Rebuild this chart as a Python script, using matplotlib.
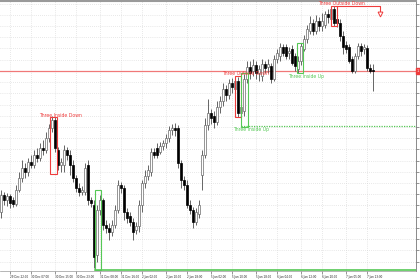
import numpy as np
import matplotlib
matplotlib.use('Agg')
import matplotlib.pyplot as plt
from matplotlib.patches import Rectangle

# hourly candles, price (arbitrary units, higher = up)
opens = [68, 85, 80, 84, 80, 76, 90, 102, 112, 108,
         118, 115, 125, 122, 132, 130, 142, 152, 160, 130,
         115, 115, 130, 125, 115, 102, 92, 88, 88, 115,
         80, 75, 25, 70, 80, 55, 52, 48, 55, 70,
         95, 92, 68, 64, 58, 50, 54, 75, 97, 104,
         108, 128, 132, 128, 134, 137, 142, 150, 152, 152,
         117, 100, 95, 75, 70, 58, 66, 105, 125, 155,
         168, 165, 158, 174, 180, 192, 186, 198, 192, 200,
         168, 170, 202, 214, 210, 216, 208, 205, 217, 214,
         215, 202, 222, 225, 234, 234, 228, 232, 225, 212,
         220, 232, 242, 250, 258, 250, 260, 255, 256, 267,
         262, 272, 262, 258, 245, 236, 234, 222, 210, 225,
         235, 232, 233, 213, 211]
closes = [85, 80, 84, 77, 76, 90, 102, 112, 108, 118,
          115, 125, 122, 132, 130, 142, 152, 160, 132, 115,
          118, 130, 125, 115, 102, 92, 88, 90, 112, 80,
          77, 23, 70, 80, 55, 52, 48, 55, 70, 95,
          92, 68, 62, 58, 48, 54, 75, 97, 104, 110,
          128, 125, 125, 134, 137, 142, 150, 152, 150, 117,
          100, 95, 75, 70, 58, 68, 75, 125, 155, 168,
          162, 158, 174, 180, 192, 186, 198, 194, 200, 168,
          174, 202, 214, 208, 216, 208, 212, 217, 213, 217,
          202, 222, 228, 234, 228, 225, 230, 218, 215, 220,
          235, 242, 252, 258, 250, 260, 255, 260, 267, 264,
          272, 258, 258, 245, 234, 232, 220, 210, 225, 235,
          230, 234, 213, 210, 210]
highs = [90, 88, 87, 86, 83, 95, 108, 120, 117, 122,
         125, 130, 132, 137, 140, 148, 156, 164, 163, 133,
         122, 135, 133, 130, 120, 105, 97, 94, 117, 120,
         83, 80, 75, 85, 82, 60, 57, 60, 75, 100,
         98, 95, 72, 68, 62, 58, 80, 100, 110, 115,
         132, 132, 137, 138, 140, 146, 154, 156, 157, 155,
         120, 104, 100, 80, 73, 72, 80, 130, 162, 182,
         172, 170, 180, 185, 198, 196, 202, 203, 204, 204,
         180, 207, 220, 220, 222, 220, 216, 222, 220, 222,
         218, 226, 232, 238, 237, 237, 234, 236, 228, 225,
         238, 246, 256, 265, 262, 266, 264, 268, 270, 272,
         275, 275, 266, 262, 250, 240, 237, 225, 228, 238,
         238, 237, 236, 217, 217]
lows = [62, 75, 74, 72, 73, 74, 88, 98, 102, 104,
        112, 112, 118, 119, 125, 127, 138, 148, 128, 110,
        108, 108, 120, 105, 98, 88, 84, 85, 85, 75,
        73, 12, 18, 65, 50, 47, 40, 44, 52, 67,
        87, 60, 57, 54, 40, 46, 48, 68, 92, 100,
        104, 122, 122, 126, 130, 132, 138, 145, 144, 112,
        92, 90, 72, 66, 52, 55, 62, 90, 122, 150,
        156, 152, 155, 168, 175, 180, 182, 188, 185, 163,
        154, 165, 198, 202, 205, 202, 200, 200, 208, 208,
        198, 200, 218, 220, 225, 222, 222, 216, 210, 208,
        216, 230, 238, 247, 246, 247, 250, 250, 253, 258,
        260, 255, 254, 240, 227, 228, 218, 208, 208, 222,
        225, 227, 210, 208, 190]

xtick_pos = [3, 10, 18, 25, 33, 40, 47, 55, 62, 70, 77, 85, 92, 100, 107, 115, 122]
xtick_labels = ["29 Dec 22:00", "30 Dec 07:00", "30 Dec 15:00", "30 Dec 23:00",
                "31 Dec 08:00", "31 Dec 16:00", "2 Jan 02:00", "2 Jan 10:00",
                "2 Jan 18:00", "5 Jan 02:00", "5 Jan 10:00", "5 Jan 18:00",
                "6 Jan 04:00", "6 Jan 12:00", "6 Jan 20:00", "7 Jan 05:00",
                "7 Jan 13:00"]

# pattern boxes: (left, right) in bars, (low, high) in price
box_x0 = [16.3, 31.3, 78.0, 80.0, 98.7, 110.0]
box_x1 = [18.7, 33.3, 80.0, 82.3, 100.7, 112.0]
box_lo = [106, 10, 163, 153, 208, 255]
box_hi = [163, 90, 205, 208, 238, 275]
box_kind = ['down', 'up', 'down', 'up', 'up', 'down']

label_text = ["Three Inside Down", "Three Outside Down", "Three Inside Up",
              "Three Inside Up", "Three Outside Down"]
label_x = [12.7, 73.7, 77.3, 95.7, 105.7]
label_y = [165, 207, 151, 204, 277.5]
label_kind = ['down', 'down', 'up', 'up', 'down']

level_red = 210
level_green_dot = 154
level_green = 10

RED = '#ee3c3c'
GREEN = '#55c855'
col = {'down': RED, 'up': GREEN}

fig = plt.figure(figsize=(4.2, 2.8), dpi=100)
ax = fig.add_axes([0.0, 0.032, 0.990, 0.965])

o = np.array(opens, float)
c = np.array(closes, float)
h = np.array(highs, float)
l = np.array(lows, float)
idx = np.arange(len(o))
up = c >= o

ax.vlines(idx, l, h, color='#5a5a5a', lw=0.65, zorder=2)
bottoms = np.minimum(o, c)
heights = np.maximum(np.abs(c - o), 0.8)
ax.bar(idx[up], heights[up], bottom=bottoms[up], width=0.7,
       color='white', edgecolor='#6a6a6a', lw=0.5, zorder=3)
ax.bar(idx[~up], heights[~up], bottom=bottoms[~up], width=0.7,
       color='black', edgecolor='black', lw=0.5, zorder=3)

# levels
ax.axhline(level_red, color='#f07878', lw=0.9, zorder=1)
ax.plot([80, 140], [level_green_dot, level_green_dot], color=GREEN,
        lw=0.9, ls=(0, (1, 1)), zorder=1)
ax.plot([31.3, 140], [level_green, level_green], color=GREEN, lw=1.2, zorder=4)

for x0, x1, lo, hi, k in zip(box_x0, box_x1, box_lo, box_hi, box_kind):
    ax.add_patch(Rectangle((x0, lo), x1 - x0, hi - lo, fill=False,
                           edgecolor=col[k], lw=0.8, zorder=4))

for t, x, y, k in zip(label_text, label_x, label_y, label_kind):
    ax.text(x, y, t, color=col[k], fontsize=3.3, ha='left', va='center', zorder=5)

# bracket + arrow from the last pattern
ax.plot([112, 126.3, 126.3], [275, 275, 270], color=RED, lw=0.8, zorder=4)
ax.plot([126.3], [267], marker='v', ms=3.5, mfc='white', mec=RED, mew=0.7, zorder=5)

ax.set_xlim(-0.33, 138.3)
ax.set_ylim(9, 280)

ax.set_xticks(xtick_pos)
ax.set_xticklabels(xtick_labels, fontsize=2.0, ha='left', color='#222222')
yt = np.arange(18.5, 280, 11.25)
ax.set_yticks(yt)
ax.set_yticklabels(["1.1%04d" % (6000 + int(v * 2)) for v in yt],
                   fontsize=2.5, color='#222222')
ax.yaxis.tick_right()
ax.tick_params(axis='x', length=2, width=0.4, pad=0.6, color='#444444')
ax.tick_params(axis='y', length=2, width=0.4, pad=0.5, color='#444444')
ax.text(-1.0, -0.012, "29 Dec 2025", transform=ax.get_xaxis_transform(),
        fontsize=2.0, ha='right', va='top', color='#222222', clip_on=False)

ax.text(1.002, level_red, "1.17410", transform=ax.get_yaxis_transform(),
        fontsize=2.5, color='white', ha='left', va='center', clip_on=False,
        bbox=dict(boxstyle='square,pad=0.3', fc=RED, ec=RED))

ax.grid(True, color='#d2d2d2', ls=(0, (1, 2)), lw=0.5)
ax.set_axisbelow(True)
ax.spines['left'].set_visible(False)
ax.spines['top'].set_color('#9a9a9a')
ax.spines['top'].set_linewidth(1.5)
ax.spines['right'].set_color('#777777')
ax.spines['right'].set_linewidth(0.6)
ax.spines['bottom'].set_color('#999999')
ax.spines['bottom'].set_linewidth(0.5)

fig.savefig('out.png', dpi=100)
